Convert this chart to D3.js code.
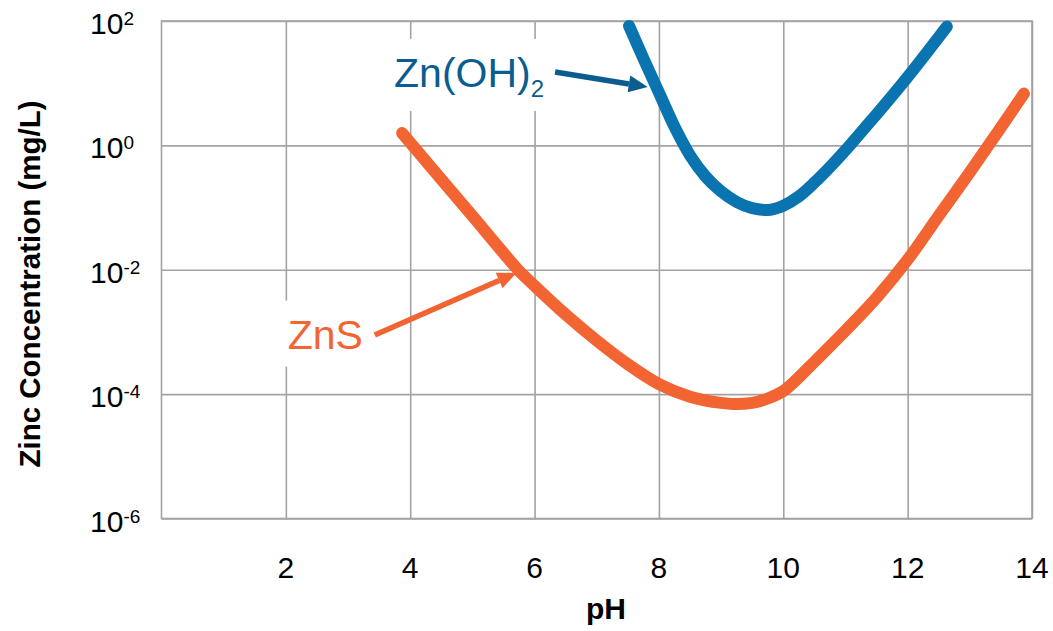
<!DOCTYPE html>
<html>
<head>
<meta charset="utf-8">
<script src="https://cdn.jsdelivr.net/npm/d3@7"></script>
<style>
  body { margin: 0; background: #fff; }
  svg { font-family: "Liberation Sans", Arial, sans-serif; }
</style>
</head>
<body>
<div id="chart"></div>
<script>
// ZnS solubility curve (pH, mg/L)
const znsPH   = [3.87, 4.0, 4.5, 5.0, 5.5, 5.75, 6.0, 6.5, 7.0, 7.5, 8.0, 8.5, 9.0, 9.25, 9.5, 9.75, 10.0, 10.25, 10.5, 11.0, 11.5, 12.0, 12.5, 13.0, 13.5, 13.87];
const znsConc = [1.58, 1.11, 0.285, 0.0733, 0.0186, 9.55e-3, 5.5e-3, 1.9e-3, 7.24e-4, 3.02e-4, 1.45e-4, 9.1e-5, 7.24e-5, 6.92e-5, 7.24e-5, 8.5e-5, 1.12e-4, 1.86e-4, 3.3e-4, 1.05e-3, 3.55e-3, 0.0145, 0.074, 0.37, 1.95, 6.8];

// Zn(OH)2 solubility curve (pH, mg/L)
const hydPH   = [7.52, 7.75, 8.0, 8.25, 8.5, 8.75, 9.0, 9.25, 9.5, 9.75, 10.0, 10.25, 10.5, 10.75, 11.0, 11.25, 11.5, 12.0, 12.63];
const hydConc = [83.2, 25.1, 7.08, 2.0, 0.692, 0.316, 0.182, 0.123, 0.0977, 0.0912, 0.107, 0.151, 0.251, 0.447, 0.832, 1.62, 3.16, 12.6, 81.3];

const xTicks = [2, 4, 6, 8, 10, 12, 14];
const yTicks = [1e-6, 1e-4, 1e-2, 1, 1e2];
const yExponents = ["-6", "-4", "-2", "0", "2"];

const W = 1053, H = 631;
const m = { left: 161.5, right: 1032, top: 21, bottom: 518.5 };

const blue = "#0a74b0", blueDark = "#0b5d8f", orange = "#f26532", grid = "#a3a3a3";

const svg = d3.select("#chart").append("svg")
  .attr("width", W).attr("height", H);

const x = d3.scaleLinear().domain([0, 14]).range([m.left, m.right]);
const y = d3.scaleLog().domain([1e-6, 1e2]).range([m.bottom, m.top]);

// gridlines
svg.append("g")
  .attr("transform", `translate(0,${m.bottom})`)
  .call(d3.axisBottom(x).tickValues(xTicks).tickSize(-(m.bottom - m.top)).tickFormat(""))
  .call(g => g.select(".domain").remove())
  .call(g => g.selectAll("line").attr("stroke", grid).attr("stroke-width", 1.6));

svg.append("g")
  .attr("transform", `translate(${m.left},0)`)
  .call(d3.axisLeft(y).tickValues(yTicks).tickSize(-(m.right - m.left)).tickFormat(""))
  .call(g => g.select(".domain").remove())
  .call(g => g.selectAll("line").attr("stroke", grid).attr("stroke-width", 1.6));

svg.append("rect")
  .attr("x", m.left).attr("y", m.top)
  .attr("width", m.right - m.left).attr("height", m.bottom - m.top)
  .attr("fill", "none").attr("stroke", grid).attr("stroke-width", 1.6);

// x tick labels
svg.append("g").selectAll("text")
  .data(xTicks).join("text")
  .attr("x", d => x(d))
  .attr("y", m.bottom + 59)
  .attr("text-anchor", "middle")
  .attr("font-size", 30)
  .attr("fill", "#000")
  .text(d => d);

// y tick labels 10^n
const yl = svg.append("g").selectAll("text")
  .data(yTicks).join("text")
  .attr("x", 90)
  .attr("y", d => y(d) + 13)
  .attr("font-size", 30)
  .attr("fill", "#000");
yl.append("tspan").text("10");
yl.append("tspan")
  .attr("font-size", 19)
  .attr("dy", -9)
  .text((d, i) => yExponents[i]);

// axis titles
svg.append("text")
  .attr("x", 606).attr("y", 619)
  .attr("text-anchor", "middle")
  .attr("font-size", 30).attr("font-weight", "bold")
  .text("pH");

svg.append("text")
  .attr("transform", `translate(40,284) rotate(-90)`)
  .attr("text-anchor", "middle")
  .attr("font-size", 29.5).attr("font-weight", "bold")
  .text("Zinc Concentration (mg/L)");

// annotation labels with white boxes
function label(px, conc, color, main, sub) {
  const g = svg.append("g");
  const box = g.append("rect").attr("fill", "#fff");
  const t = g.append("text")
    .attr("x", x(px)).attr("y", y(conc))
    .attr("font-size", 41).attr("fill", color);
  t.append("tspan").text(main);
  if (sub) t.append("tspan").attr("font-size", 24).attr("dy", 10).text(sub);
  const b = t.node().getBBox();
  box.attr("x", b.x - 8).attr("y", b.y - 11)
    .attr("width", b.width + 16).attr("height", b.height + 20);
}
label(3.74, 8.7, blueDark, "Zn(OH)", "2");
label(2.03, 5.4e-4, orange, "ZnS");

// arrows
function arrow(p0, c0, p1, c1, color) {
  const x0 = x(p0), y0 = y(c0), x1 = x(p1), y1 = y(c1);
  const a = Math.atan2(y1 - y0, x1 - x0);
  const L = 19, Wd = 8.5;
  const bx = x1 - L * Math.cos(a), by = y1 - L * Math.sin(a);
  svg.append("line")
    .attr("x1", x0).attr("y1", y0).attr("x2", bx).attr("y2", by)
    .attr("stroke", color).attr("stroke-width", 5.5);
  svg.append("path")
    .attr("d", `M${x1},${y1}L${bx - Wd * Math.sin(a)},${by + Wd * Math.cos(a)}L${bx + Wd * Math.sin(a)},${by - Wd * Math.cos(a)}Z`)
    .attr("fill", color);
}
arrow(6.33, 15.1, 7.82, 8.7, blueDark);
arrow(3.43, 8.9e-4, 5.71, 8.9e-3, orange);

// curves
const line = d3.line()
  .x(d => x(d[0]))
  .y(d => y(d[1]))
  .curve(d3.curveMonotoneX);

svg.append("path")
  .datum(znsPH.map((p, i) => [p, znsConc[i]]))
  .attr("d", line)
  .attr("fill", "none").attr("stroke", orange)
  .attr("stroke-width", 12).attr("stroke-linecap", "round");

svg.append("path")
  .datum(hydPH.map((p, i) => [p, hydConc[i]]))
  .attr("d", line)
  .attr("fill", "none").attr("stroke", blue)
  .attr("stroke-width", 12).attr("stroke-linecap", "round");
</script>
</body>
</html>
